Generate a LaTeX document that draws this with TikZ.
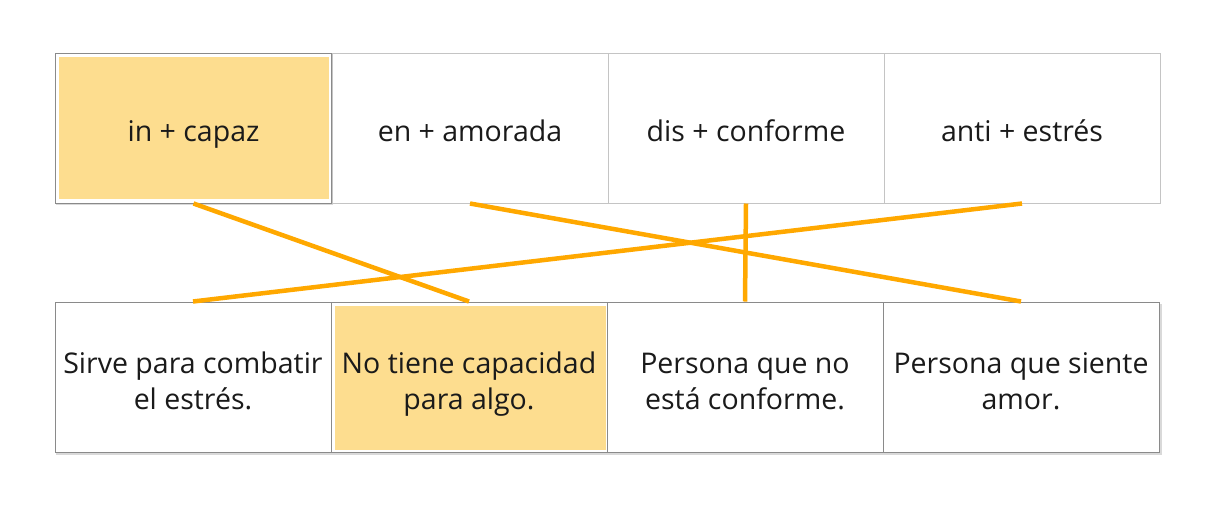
\documentclass[tikz,border=0pt]{standalone}
\usepackage{fontspec}
\setmainfont{Open Sans}
\definecolor{hl}{HTML}{FDDD8F}
\definecolor{ln}{HTML}{FFA800}
\definecolor{txt}{HTML}{1A1A1A}
\definecolor{lb}{HTML}{C4C4C4}
\definecolor{db}{HTML}{8A8A8A}
\begin{document}
\begin{tikzpicture}[x=1pt,y=-1pt,
  cell/.style={minimum width=276pt,minimum height=150pt,inner sep=0pt},
  topcell/.style={cell,draw=lb,line width=1pt},
  botcell/.style={cell,draw=db,line width=1pt,fill=white},
  lbl/.style={inner sep=0pt,align=center,anchor=base,font=\fontsize{28.5}{35.5}\selectfont,text=txt},
  link/.style={ln,line width=4.5pt}]
\useasboundingbox (0,0) rectangle (1209,507);
% shadows
\fill[black!15] (56,304) rectangle (1162,455);
\fill[black!15] (56,55) rectangle (333,205);
% top row
\node[topcell] (t2) at (470,128) {};
\node[topcell] (t3) at (746,128) {};
\node[topcell] (t4) at (1022,128) {};
\node[topcell,draw=db,fill=white] (t1) at (193.5,128) {};
\fill[hl] (59,57) rectangle (329,199);
\node[lbl] (t1l) at (193.5,141) {in + capaz};
\node[lbl] (t2l) at (470,141) {en + amorada};
\node[lbl] (t3l) at (746,141) {dis + conforme};
\node[lbl] (t4l) at (1022,141) {anti + estrés};
% bottom row
\node[botcell] (b1) at (193,377) {};
\node[botcell] (b2) at (469,377) {};
\fill[hl] (335,306) rectangle (606,450);
\node[botcell] (b3) at (745,377) {};
\node[botcell] (b4) at (1021,377) {};
\node[lbl] (b1l) at (193,409) {Sirve para combatir\\el estrés.};
\node[lbl] (b2l) at (469,409) {No tiene capacidad\\para algo.};
\node[lbl] (b3l) at (745,409) {Persona que no\\está conforme.};
\node[lbl] (b4l) at (1021,409) {Persona que siente\\amor.};
% links
\draw[link] (t1.south) -- (b2.north);
\draw[link] (t2.south) -- (b4.north);
\draw[link] (t3.south) -- (b3.north);
\draw[link] (t4.south) -- (b1.north);
\end{tikzpicture}
\end{document}
